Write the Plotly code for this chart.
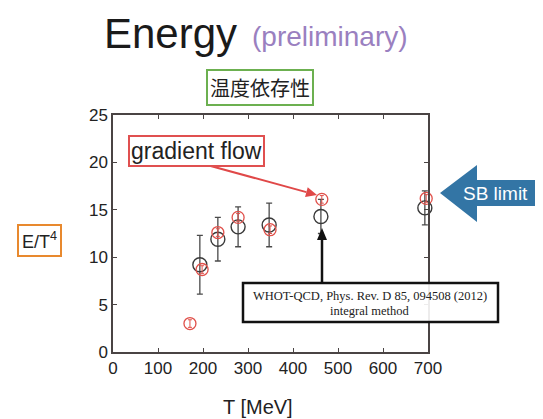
import math
import plotly.graph_objects as go

# WHOT-QCD (integral method) data
whot_T = [193, 233, 278, 347, 462, 693]
whot_E = [9.2, 11.9, 13.2, 13.4, 14.3, 15.2]
whot_err = [3.1, 2.3, 2.1, 2.3, 1.8, 1.8]

# gradient flow data
gf_T = [171, 198, 233, 278, 349, 464, 696]
gf_E = [3.0, 8.7, 12.6, 14.2, 12.9, 16.1, 16.2]
gf_err = [0.4, 0.4, 0.4, 0.4, 0.4, 0.4, 0.4]

x_ticks = [0, 100, 200, 300, 400, 500, 600, 700]
y_ticks = [0, 5, 10, 15, 20, 25]

OFF = 8  # page body margin
W, H = 543 - OFF, 419 - OFF
L, R, T, B = 113, 428, 115, 352  # plot frame in page pixels

def px(x):
    return (x - L) / (R - L)

def py(y):
    return (B - y) / (B - T)

fig = go.Figure()
fig.add_trace(go.Scatter(
    x=whot_T, y=whot_E, mode="markers",
    marker=dict(symbol="circle-open", size=14, color="#3a3a3a", line=dict(width=1.4)),
    error_y=dict(type="data", array=whot_err, color="#4a4a4a", thickness=1.3, width=3),
    showlegend=False, cliponaxis=False))
fig.add_trace(go.Scatter(
    x=gf_T, y=gf_E, mode="markers",
    marker=dict(symbol="circle-open", size=12, color="#e0504a", line=dict(width=1.3)),
    error_y=dict(type="data", array=gf_err, color="#e0504a", thickness=1, width=2),
    showlegend=False, cliponaxis=False))

axis_common = dict(showline=True, linecolor="#4a4444", linewidth=1.5, mirror="ticks",
                   ticks="inside", ticklen=4, tickcolor="#4a4444", showgrid=False,
                   zeroline=False, tickfont=dict(family="Liberation Sans", size=17, color="#222"))
fig.update_xaxes(range=[0, 700], tickvals=x_ticks, **axis_common)
fig.update_yaxes(range=[0, 25], tickvals=y_ticks, **axis_common)

annotations = [
    dict(x=px(170), y=py(33), text="Energy", font=dict(family="Liberation Sans", size=42, color="#1a1a1a")),
    dict(x=px(330), y=py(36), text="(preliminary)", font=dict(family="Liberation Sans", size=28, color="#9a80c0")),
    dict(x=px(260), y=py(87), text="温度依存性", font=dict(family="Noto Sans CJK JP", size=20, color="#222"),
         bordercolor="#6cb050", borderwidth=2, borderpad=2, bgcolor="white"),
    dict(x=px(196), y=py(151), text="gradient flow", font=dict(family="Liberation Sans", size=23, color="#222"),
         bordercolor="#e05050", borderwidth=2, borderpad=1, bgcolor="white"),
    dict(x=px(39), y=py(240), text="E/T<sup>4</sup>", font=dict(family="Liberation Sans", size=18, color="#222"),
         bordercolor="#e8892e", borderwidth=2, borderpad=3),
    dict(x=px(495), y=py(193), text="SB limit", font=dict(family="Liberation Sans", size=19, color="white")),
    dict(x=px(370), y=py(296), text="WHOT-QCD, Phys. Rev. D 85, 094508 (2012)",
         font=dict(family="Liberation Serif", size=12.5, color="#222")),
    dict(x=px(370), y=py(311), text="integral method",
         font=dict(family="Liberation Serif", size=12.5, color="#222")),
    dict(x=px(258), y=py(407), text="T [MeV]", font=dict(family="Liberation Sans", size=20, color="#222")),
]
for a in annotations:
    a.update(xref="paper", yref="paper", showarrow=False, xanchor="center", yanchor="middle")


def arrow_shapes(x0, y0, x1, y1, color, width, head_len, head_w):
    dx, dy = x1 - x0, y1 - y0
    n = math.hypot(dx, dy)
    ux, uy = dx / n, dy / n
    bx, by = x1 - head_len * ux, y1 - head_len * uy
    pxv, pyv = -uy, ux
    c1 = (bx + head_w * pxv, by + head_w * pyv)
    c2 = (bx - head_w * pxv, by - head_w * pyv)
    return [
        dict(type="line", xref="paper", yref="paper", x0=px(x0), y0=py(y0), x1=px(bx), y1=py(by),
             line=dict(color=color, width=width), layer="above"),
        dict(type="path", xref="paper", yref="paper",
             path=f"M {px(x1)} {py(y1)} L {px(c1[0])} {py(c1[1])} L {px(c2[0])} {py(c2[1])} Z",
             fillcolor=color, line=dict(width=0), layer="above"),
    ]

shapes = [
    # WHOT-QCD box
    dict(type="rect", xref="paper", yref="paper", x0=px(243), x1=px(498), y0=py(322), y1=py(283),
         line=dict(color="#111", width=2.5), fillcolor="rgba(255,255,255,0.9)", layer="above"),
    # SB limit arrow
    dict(type="path", xref="paper", yref="paper",
         path=(f"M {px(440)} {py(193)} L {px(477)} {py(165)} L {px(477)} {py(180)} "
               f"L {px(537)} {py(180)} L {px(537)} {py(206)} L {px(477)} {py(206)} "
               f"L {px(477)} {py(222)} Z"),
         fillcolor="#3375a5", line=dict(width=0), layer="below"),
]
shapes += arrow_shapes(207, 165, 317, 195, "#e04848", 2, 11, 5)
shapes += arrow_shapes(322, 283, 322, 228, "#111", 2.5, 12, 5)

fig.update_layout(width=W, height=H,
                  margin=dict(l=L - OFF, r=W - (R - OFF), t=T - OFF, b=H - (B - OFF), autoexpand=False),
                  paper_bgcolor="white", plot_bgcolor="white",
                  annotations=annotations, shapes=shapes)
fig.write_html("out.html")
